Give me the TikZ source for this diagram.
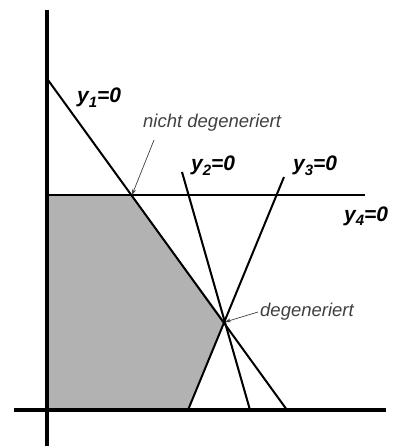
\documentclass[tikz,border=0pt]{standalone}
\usepackage{fontspec}
\setmainfont{Liberation Sans}
\usetikzlibrary{arrows.meta}
\newcommand{\lsub}[1]{\raisebox{-0.45ex}{\fontsize{15}{15}\selectfont #1}}
\begin{document}
\begin{tikzpicture}[x=1pt,y=-1pt,
  axis/.style={line width=3.2pt},
  cons/.style={line width=2pt},
  note/.style={draw=black!75,line width=0.7pt,-{Stealth[length=6pt,width=4pt]}},
  lab/.style={font=\fontsize{21}{21}\selectfont\bfseries\itshape,inner sep=0pt,anchor=base west},
  txt/.style={font=\fontsize{18.5}{18.5}\selectfont\itshape,text=black!75,inner sep=0pt,anchor=base west}]
\useasboundingbox (0,0) rectangle (393,446);
% points
\coordinate (O) at (47,410);
\coordinate (ytop) at (47,10);
\coordinate (ybot) at (47,446);
\coordinate (xl) at (14,410);
\coordinate (xr) at (386,410);
\coordinate (a1) at (48,80);
\coordinate (b1) at (287,410);
\coordinate (A) at (132,195);
\coordinate (D) at (225,322);
\coordinate (c4) at (47,195);
\coordinate (d4) at (365,195);
\coordinate (a2) at (182,172);
\coordinate (b2) at (250,410);
\coordinate (a3) at (284,177);
\coordinate (b3) at (188,410);
% feasible region
\fill[black!30] (c4) -- (A) -- (D) -- (b3) -- (O) -- cycle;
% lines
\draw[cons] (a1) -- (b1);
\draw[cons] (c4) -- (d4);
\draw[cons] (a2) -- (b2);
\draw[cons] (a3) -- (b3);
\draw[axis] (ytop) -- (ybot);
\draw[axis] (xl) -- (xr);
% labels
\node[lab] (l1) at (77,103) {y\lsub{1}=0};
\node[lab] (l2) at (191,171) {y\lsub{2}=0};
\node[lab] (l3) at (293,171) {y\lsub{3}=0};
\node[lab] (l4) at (344,221) {y\lsub{4}=0};
\node[txt] (t1) at (143,128) {nicht degeneriert};
\node[txt] (t2) at (260,316) {degeneriert};
\coordinate (s1) at (154,140);
\coordinate (s2) at (258,312);
\draw[note] (s1) -- (A);
\draw[note] (s2) -- (D);
\end{tikzpicture}
\end{document}
